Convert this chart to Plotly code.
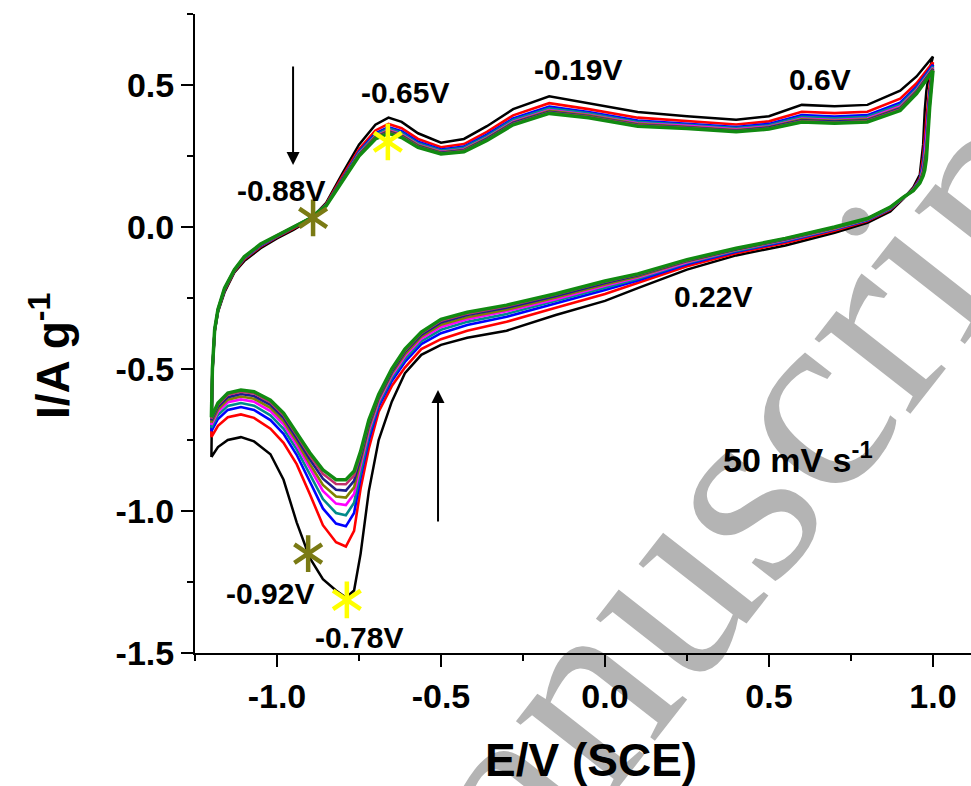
import plotly.graph_objects as go

# Potential grid (V vs SCE) for the anodic (forward) and cathodic (reverse) sweeps
E_up = [-1.2, -1.197, -1.19, -1.18, -1.16, -1.13, -1.1, -1.05, -1.0, -0.95, -0.9, -0.85,
        -0.8, -0.75, -0.7, -0.66, -0.62, -0.57, -0.5, -0.43, -0.36, -0.28, -0.17, -0.05,
        0.1, 0.25, 0.4, 0.5, 0.6, 0.7, 0.8, 0.9, 0.95, 1.0]
E_dn = [1.0, 0.99, 0.98, 0.975, 0.97, 0.96, 0.94, 0.91, 0.87, 0.8, 0.7, 0.55, 0.4, 0.25,
        0.1, 0.0, -0.15, -0.3, -0.42, -0.5, -0.56, -0.61, -0.65, -0.69, -0.72, -0.745,
        -0.765, -0.79, -0.82, -0.86, -0.9, -0.94, -0.98, -1.02, -1.07, -1.11, -1.15,
        -1.18, -1.2]

# Current density (A/g), one list per cycle and sweep direction
I_up_1 = [-0.81, -0.52, -0.37, -0.30, -0.23, -0.16, -0.12, -0.075, -0.04, -0.01, 0.025, 0.085,
          0.19, 0.29, 0.36, 0.385, 0.37, 0.33, 0.297, 0.31, 0.355, 0.415, 0.46, 0.435,
          0.405, 0.39, 0.378, 0.39, 0.43, 0.425, 0.43, 0.48, 0.53, 0.60]
I_dn_1 = [0.60, 0.555, 0.48, 0.41, 0.29, 0.185, 0.14, 0.10, 0.055, 0.015, -0.02, -0.065, -0.10,
          -0.15, -0.215, -0.26, -0.31, -0.365, -0.39, -0.415, -0.45, -0.515, -0.615, -0.75,
          -0.93, -1.15, -1.28, -1.305, -1.28, -1.24, -1.165, -1.04, -0.89, -0.80, -0.755,
          -0.74, -0.75, -0.775, -0.81]

I_up_2 = [-0.74, -0.512, -0.366, -0.296, -0.224, -0.156, -0.114, -0.069, -0.036, -0.006, 0.027,
          0.081, 0.18, 0.274, 0.34, 0.363, 0.348, 0.31, 0.281, 0.292, 0.335, 0.393, 0.436,
          0.415, 0.385, 0.373, 0.361, 0.372, 0.406, 0.401, 0.406, 0.452, 0.506, 0.58]
I_dn_2 = [0.58, 0.50, 0.38, 0.32, 0.245, 0.172, 0.135, 0.102, 0.061, 0.021, -0.013, -0.056,
          -0.092, -0.138, -0.198, -0.236, -0.284, -0.334, -0.365, -0.395, -0.43, -0.495, -0.56,
          -0.65, -0.78, -0.92, -1.07, -1.125, -1.11, -1.05, -0.94, -0.835, -0.76, -0.71,
          -0.672, -0.66, -0.67, -0.70, -0.74]

I_up_3 = [-0.719, -0.508, -0.364, -0.294, -0.221, -0.154, -0.111, -0.066, -0.034, -0.004, 0.028,
          0.079, 0.175, 0.266, 0.33, 0.352, 0.337, 0.30, 0.273, 0.283, 0.325, 0.382, 0.424,
          0.405, 0.375, 0.364, 0.352, 0.363, 0.394, 0.389, 0.394, 0.438, 0.494, 0.571]
I_dn_3 = [0.571, 0.476, 0.338, 0.284, 0.225, 0.167, 0.133, 0.103, 0.064, 0.024, -0.009, -0.051,
          -0.087, -0.131, -0.188, -0.222, -0.269, -0.316, -0.345, -0.374, -0.412, -0.475,
          -0.542, -0.632, -0.75, -0.881, -1.007, -1.054, -1.044, -0.991, -0.896, -0.802,
          -0.728, -0.68, -0.644, -0.634, -0.644, -0.676, -0.719]

I_up_4 = [-0.707, -0.506, -0.363, -0.293, -0.22, -0.153, -0.11, -0.065, -0.033, -0.003, 0.029,
          0.078, 0.172, 0.262, 0.325, 0.347, 0.332, 0.295, 0.269, 0.279, 0.32, 0.377, 0.418,
          0.40, 0.37, 0.36, 0.348, 0.358, 0.388, 0.383, 0.388, 0.431, 0.488, 0.566]
I_dn_4 = [0.566, 0.462, 0.314, 0.264, 0.214, 0.164, 0.132, 0.103, 0.065, 0.025, -0.007, -0.048,
          -0.084, -0.127, -0.182, -0.214, -0.261, -0.306, -0.334, -0.362, -0.402, -0.464,
          -0.532, -0.622, -0.733, -0.859, -0.971, -1.015, -1.007, -0.958, -0.872, -0.783,
          -0.711, -0.663, -0.629, -0.62, -0.63, -0.662, -0.707]

I_up_5 = [-0.697, -0.504, -0.362, -0.292, -0.218, -0.152, -0.108, -0.063, -0.032, -0.002, 0.029,
          0.077, 0.17, 0.258, 0.32, 0.341, 0.326, 0.29, 0.265, 0.274, 0.315, 0.371, 0.412,
          0.395, 0.365, 0.356, 0.344, 0.354, 0.382, 0.377, 0.382, 0.424, 0.482, 0.561]
I_dn_5 = [0.561, 0.45, 0.293, 0.246, 0.205, 0.161, 0.131, 0.104, 0.067, 0.027, -0.005, -0.046,
          -0.081, -0.124, -0.178, -0.207, -0.254, -0.297, -0.325, -0.352, -0.393, -0.455,
          -0.523, -0.613, -0.718, -0.839, -0.94, -0.979, -0.974, -0.929, -0.85, -0.767,
          -0.695, -0.648, -0.615, -0.607, -0.617, -0.65, -0.697]

I_up_6 = [-0.689, -0.503, -0.362, -0.292, -0.217, -0.152, -0.107, -0.062, -0.032, -0.002, 0.029,
          0.077, 0.169, 0.256, 0.318, 0.338, 0.323, 0.288, 0.263, 0.272, 0.313, 0.368, 0.409,
          0.393, 0.363, 0.353, 0.341, 0.352, 0.379, 0.374, 0.379, 0.42, 0.479, 0.558]
I_dn_6 = [0.558, 0.442, 0.278, 0.232, 0.198, 0.16, 0.13, 0.104, 0.068, 0.028, -0.004, -0.044,
          -0.08, -0.121, -0.174, -0.202, -0.248, -0.291, -0.318, -0.344, -0.386, -0.448,
          -0.516, -0.606, -0.707, -0.825, -0.917, -0.953, -0.949, -0.908, -0.834, -0.755,
          -0.683, -0.637, -0.605, -0.597, -0.608, -0.642, -0.689]

I_up_7 = [-0.681, -0.502, -0.361, -0.291, -0.217, -0.151, -0.107, -0.062, -0.031, -0.001, 0.03,
          0.076, 0.168, 0.254, 0.315, 0.336, 0.321, 0.285, 0.261, 0.27, 0.31, 0.366, 0.406,
          0.39, 0.36, 0.351, 0.339, 0.35, 0.376, 0.371, 0.376, 0.417, 0.476, 0.555]
I_dn_7 = [0.555, 0.433, 0.262, 0.219, 0.19, 0.158, 0.129, 0.105, 0.069, 0.029, -0.002, -0.043,
          -0.078, -0.119, -0.17, -0.197, -0.243, -0.284, -0.31, -0.336, -0.38, -0.44, -0.51,
          -0.60, -0.696, -0.811, -0.894, -0.928, -0.925, -0.886, -0.818, -0.743, -0.672,
          -0.626, -0.595, -0.588, -0.599, -0.633, -0.681]

I_up_8 = [-0.675, -0.501, -0.36, -0.29, -0.216, -0.15, -0.106, -0.061, -0.03, 0.0, 0.03,
          0.076, 0.166, 0.252, 0.312, 0.333, 0.318, 0.283, 0.259, 0.268, 0.307, 0.363, 0.403,
          0.388, 0.358, 0.349, 0.337, 0.347, 0.373, 0.368, 0.373, 0.414, 0.473, 0.552]
I_dn_8 = [0.552, 0.426, 0.25, 0.208, 0.185, 0.156, 0.128, 0.105, 0.069, 0.029, -0.001, -0.041,
          -0.076, -0.117, -0.167, -0.193, -0.238, -0.279, -0.305, -0.33, -0.374, -0.435,
          -0.504, -0.594, -0.687, -0.799, -0.875, -0.906, -0.905, -0.869, -0.805, -0.733,
          -0.662, -0.617, -0.586, -0.58, -0.591, -0.626, -0.675]

I_up_9 = [-0.67, -0.50, -0.36, -0.29, -0.215, -0.15, -0.105, -0.06, -0.03, 0.0, 0.03, 0.075,
          0.165, 0.25, 0.31, 0.33, 0.315, 0.28, 0.257, 0.265, 0.305, 0.36, 0.40, 0.385,
          0.355, 0.347, 0.335, 0.345, 0.37, 0.365, 0.37, 0.41, 0.47, 0.55]
I_dn_9 = [0.55, 0.42, 0.24, 0.20, 0.18, 0.155, 0.128, 0.105, 0.07, 0.03, 0.0, -0.04, -0.075,
          -0.115, -0.165, -0.19, -0.235, -0.275, -0.30, -0.325, -0.37, -0.43, -0.50, -0.59,
          -0.68, -0.79, -0.86, -0.89, -0.89, -0.855, -0.795, -0.725, -0.655, -0.61, -0.58,
          -0.574, -0.585, -0.62, -0.67]

cycle_names = ["cycle 1", "cycle 2", "cycle 3", "cycle 4", "cycle 5",
               "cycle 6", "cycle 7", "cycle 8", "cycle 9"]
cycle_colors = ["#000000", "#ff0000", "#0000ff", "#008b8b", "#ff00ff",
                "#808000", "#1c1c8c", "#c0306a", "#118a11"]
cycle_widths = [2.5, 2.6, 2.6, 2.6, 2.6, 2.6, 2.6, 2.6, 3.5]

I_up = [I_up_1, I_up_2, I_up_3, I_up_4, I_up_5, I_up_6, I_up_7, I_up_8, I_up_9]
I_dn = [I_dn_1, I_dn_2, I_dn_3, I_dn_4, I_dn_5, I_dn_6, I_dn_7, I_dn_8, I_dn_9]

# Marked peak positions (E, I)
star_olive_E = [-0.89, -0.905]
star_olive_I = [0.032, -1.15]
star_yellow_E = [-0.662, -0.787]
star_yellow_I = [0.30, -1.313]

# Peak labels: text, E, I
peak_text = ["-0.88V", "-0.65V", "-0.19V", "0.6V", "0.22V", "-0.92V", "-0.78V"]
peak_E = [-0.988, -0.61, -0.082, 0.655, 0.329, -1.021, -0.75]
peak_I = [0.13, 0.472, 0.553, 0.518, -0.246, -1.289, -1.447]

x_tickvals = [-1.0, -0.5, 0.0, 0.5, 1.0]
x_ticktext = ["-1.0", "-0.5", "0.0", "0.5", "1.0"]
y_tickvals = [-1.5, -1.0, -0.5, 0.0, 0.5]
y_ticktext = ["-1.5", "-1.0", "-0.5", "0.0", "0.5"]

FONT = "Liberation Sans, Arial, sans-serif"

fig = go.Figure()

for name, col, w, up, dn in zip(cycle_names, cycle_colors, cycle_widths, I_up, I_dn):
    fig.add_trace(go.Scatter(
        x=E_up + E_dn[1:], y=up + dn[1:], mode="lines", name=name,
        line=dict(color=col, width=w), showlegend=False, hoverinfo="skip"))

# six-armed asterisks built from two overlaid Y symbols
for E, I, col in [(star_olive_E, star_olive_I, "#7a7a14"),
                  (star_yellow_E, star_yellow_I, "#ffff00")]:
    for sym in ("y-up-open", "y-down-open"):
        fig.add_trace(go.Scatter(
            x=E, y=I, mode="markers", showlegend=False, hoverinfo="skip",
            marker=dict(symbol=sym, size=23, color=col, line=dict(color=col, width=4.5))))

annotations = []
for t, e, i in zip(peak_text, peak_E, peak_I):
    annotations.append(dict(x=e, y=i, xref="x", yref="y", text=t, showarrow=False,
                            font=dict(family=FONT, size=30, color="black", weight="bold")))

annotations.append(dict(x=0.59, y=-0.81, xref="x", yref="y", text="50 mV s<sup>-1</sup>",
                        showarrow=False,
                        font=dict(family=FONT, size=34, color="black", weight="bold")))

# direction arrows for increasing cycle number
annotations.append(dict(x=-0.951, y=0.218, ax=-0.951, ay=0.57, xref="x", yref="y",
                        axref="x", ayref="y", text="", showarrow=True, arrowhead=2,
                        arrowsize=1.3, arrowwidth=2, arrowcolor="black"))
annotations.append(dict(x=-0.509, y=-0.574, ax=-0.509, ay=-1.042, xref="x", yref="y",
                        axref="x", ayref="y", text="", showarrow=True, arrowhead=2,
                        arrowsize=1.3, arrowwidth=2, arrowcolor="black"))

# axis titles
annotations.append(dict(x=0.51, y=-0.1675, xref="paper", yref="paper", text="E/V (SCE)",
                        showarrow=False, xanchor="center", yanchor="middle",
                        font=dict(family=FONT, size=46, color="black", weight="bold")))
annotations.append(dict(x=-0.187, y=0.466, xref="paper", yref="paper",
                        text="I/A g<sup>-1</sup>", textangle=-90,
                        showarrow=False, xanchor="center", yanchor="middle",
                        font=dict(family=FONT, size=46, color="black", weight="bold")))

fig.update_layout(
    width=971, height=786,
    margin=dict(l=195, r=0, t=14, b=133, pad=0),
    paper_bgcolor="white", plot_bgcolor="white",
    annotations=annotations,
    shapes=[dict(type="line", xref="paper", yref="paper",
                 x0=0.577, y0=0.143, x1=0.645, y1=0.239,
                 line=dict(width=0, color="rgba(0,0,0,0)"), layer="below",
                 label=dict(text="Manuscript", textangle=-52, textposition="middle",
                            xanchor="center", yanchor="middle",
                            font=dict(family="Liberation Serif, Times New Roman, serif",
                                      size=265, color="#b4b4b4")))],
)

axis_common = dict(showgrid=False, zeroline=False, showline=True, linewidth=2,
                   linecolor="black", ticks="outside", ticklen=12, tickwidth=2,
                   tickcolor="black", tickmode="array",
                   tickfont=dict(family=FONT, size=34, color="black", weight="bold"),
                   minor=dict(ticks="outside", ticklen=6, tickwidth=2, tickcolor="black",
                              tickmode="linear", tick0=0, dtick=0.25))

fig.update_xaxes(range=[-1.25, 1.116], tickvals=x_tickvals, ticktext=x_ticktext,
                 **axis_common)
fig.update_yaxes(range=[-1.5, 0.75], tickvals=y_tickvals, ticktext=y_ticktext,
                 **axis_common)

fig.write_html("out.html")
